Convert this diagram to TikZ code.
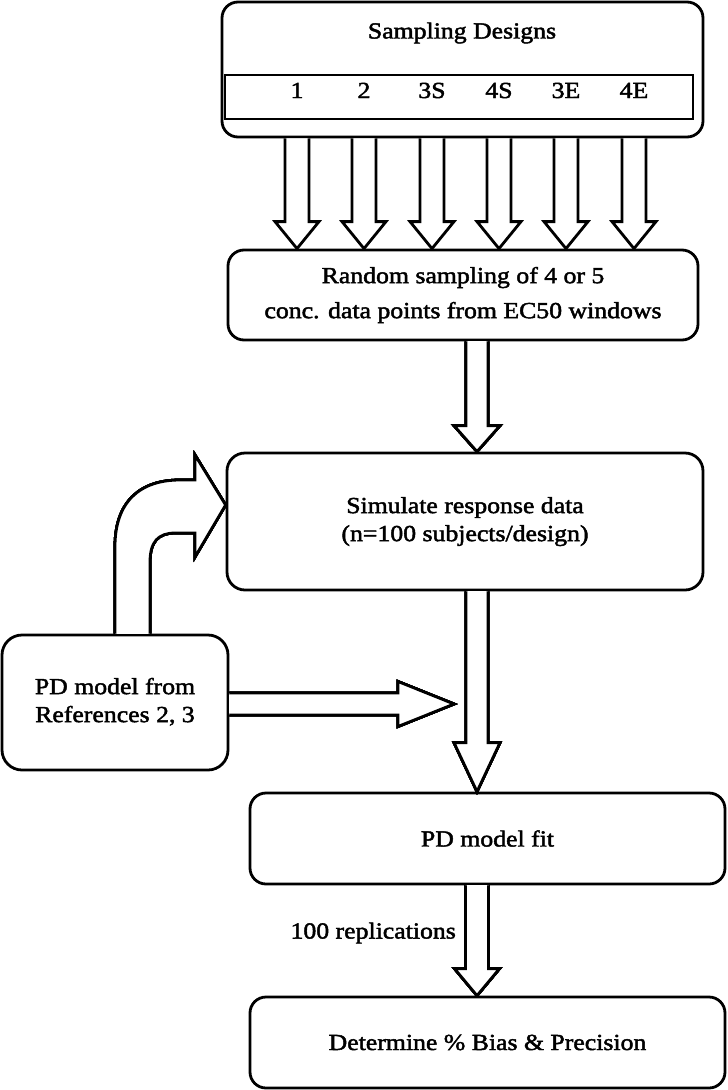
\documentclass[tikz,border=0pt]{standalone}
\usepackage{fontspec}
\setmainfont{Liberation Serif}[FakeStretch=1.12,FakeBold=2]
\usetikzlibrary{calc}
\newcommand{\blkdown}[5]{\draw[blk] let \p1=(#1), \p2=(#2) in
  (\x2-#3,\y1) -- (\x2-#3,\y2+#5) -- (\x2-#4,\y2+#5) -- (\x2,\y2) -- (\x2+#4,\y2+#5) -- (\x2+#3,\y2+#5) -- (\x2+#3,\y1);}
\newcommand{\blkright}[5]{\draw[blk] let \p1=(#1), \p2=(#2) in
  (\x1,\y2+#3) -- (\x2-#5,\y2+#3) -- (\x2-#5,\y2+#4) -- (\x2,\y2) -- (\x2-#5,\y2-#4) -- (\x2-#5,\y2-#3) -- (\x1,\y2-#3);}
\begin{document}
\begin{tikzpicture}[x=1pt,y=-1pt]
\tikzstyle{every node}+=[inner sep=0pt]
\tikzstyle{box}=[draw, line width=2.8pt, rounded corners=16pt, align=center, font=\fontsize{23}{28}\selectfont]
\tikzstyle{blk}=[draw, line width=2.8pt, fill=white, line join=miter]
\tikzstyle{lbl}=[font=\fontsize{23}{28}\selectfont]
\useasboundingbox (0,0) rectangle (728,1090);
\node [box, minimum width=481pt, minimum height=135pt] (sd) at (462.5,69.5) {};
\node [lbl] (title) at (462,33) {Sampling Designs};
\node [draw, line width=2.8pt, minimum width=468pt, minimum height=44pt] (strip) at (459,97) {};
\foreach \lab/\x in {1/297,2/364,3S/432,4S/499,3E/566,4E/634}
  \node [lbl, anchor=base] (d\lab) at (\x,98) {\lab};
\node [box, minimum width=470pt, minimum height=90pt] (rs) at (463,295) {Random sampling of 4 or 5\\[7pt]conc. data points from EC50 windows};
\node [box, minimum width=476pt, minimum height=137pt, rounded corners=18pt] (sim) at (465,521.5) {\raisebox{-3pt}{\begin{tabular}{@{}c@{}}Simulate response data\\(n=100 subjects/design)\end{tabular}}};
\node [box, minimum width=226pt, minimum height=135pt, rounded corners=20pt] (pd) at (115,702.5) {\raisebox{-6pt}{\begin{tabular}{@{}c@{}}PD model from\\References 2, 3\end{tabular}}};
\node [box, minimum width=475pt, minimum height=91pt] (fit) at (487.5,838.5) {\raisebox{-5pt}{PD model fit}};
\node [box, minimum width=475pt, minimum height=91pt] (det) at (487.5,1042.5) {\raisebox{-5pt}{Determine \% Bias \& Precision}};
\node [lbl, anchor=east] (rep) at (456,933) {100 replications};
\coordinate (mid) at (477,0);
\coordinate (hit) at (454,704);
\coordinate (cin) at (0,505);
\foreach \lab in {1,2,3S,4S,3E,4E}
  \blkdown{sd.south -| d\lab}{rs.north -| d\lab}{12pt}{22pt}{27pt}
\blkdown{rs.south -| mid}{sim.north -| mid}{11pt}{23pt}{26pt}
\blkdown{sim.south -| mid}{fit.north -| mid}{11pt}{23pt}{49pt}
\blkdown{fit.south -| mid}{det.north -| mid}{11.5pt}{22.5pt}{27pt}
\blkright{pd.east}{hit}{11pt}{22.5pt}{56pt}
\draw [blk] (pd.north) -- ++(0,-87) .. controls ++(0,-45) and (140,480) .. (180,480) -- (195,480) -- (195,455)
  -- (sim.west |- cin) -- (195,557) -- (195,533) -- (175,533) .. controls (158,533) and (150,542) .. (150,562) -- ($(pd.north)+(35,0)$);
\end{tikzpicture}
\end{document}
